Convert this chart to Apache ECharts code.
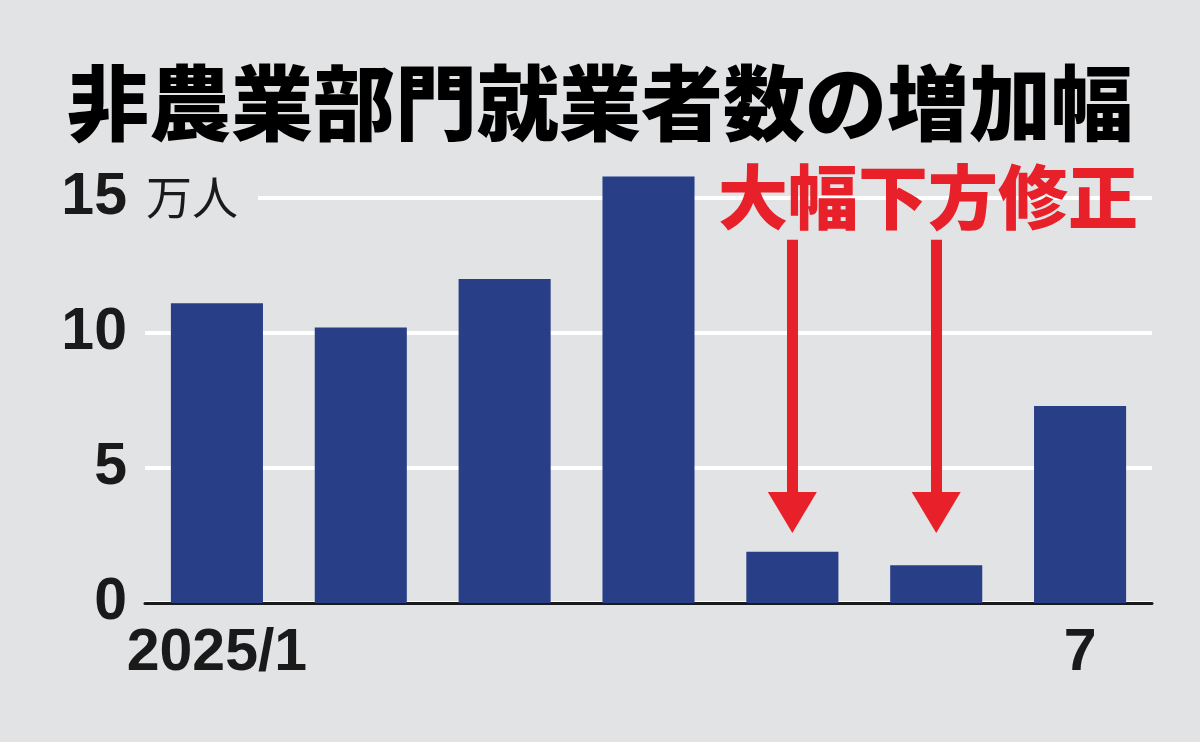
<!DOCTYPE html>
<html>
<head>
<meta charset="utf-8">
<script src="https://cdn.jsdelivr.net/npm/echarts@6/dist/echarts.min.js"></script>
<style>
html,body{margin:0;padding:0;background:#e2e3e5;}
#chart{width:1200px;height:742px;}
</style>
</head>
<body>
<div id="chart"></div>
<script>
var categories = ['2025/1', '2', '3', '4', '5', '6', '7'];
var values = [11.1, 10.2, 12.0, 15.8, 1.9, 1.4, 7.3];
var yTicks = [0, 5, 10, 15];
var titleText = '非農業部門就業者数の増加幅';
var unitText = '万人';
var noteText = '大幅下方修正';
var arrowIdx = [4, 5];
var arrowFrom = 13.45;
var arrowTo = 3.35;

var BG = '#e2e3e5';
var chart = echarts.init(document.getElementById('chart'));
var numFont = '"Liberation Sans Narrow", "Liberation Sans", Arial, sans-serif';
var cjk = '"Noto Sans CJK JP", sans-serif';

chart.setOption({
  backgroundColor: BG,
  animation: false,
  grid: {left: 145, right: 48, top: 198, bottom: 139},
  xAxis: {
    type: 'category',
    data: categories,
    axisLine: {show: true, lineStyle: {color: '#1a1a1a', width: 3}},
    axisTick: {show: false},
    axisLabel: {
      interval: function (i) { return i === 0 || i === categories.length - 1; },
      color: '#1a1a1a', fontFamily: numFont, fontWeight: 'bold', fontSize: 59, margin: 21
    }
  },
  yAxis: {
    type: 'value',
    min: yTicks[0], max: yTicks[yTicks.length - 1], interval: 5,
    axisLine: {show: false},
    axisTick: {show: false},
    splitLine: {lineStyle: {color: '#ffffff', width: 4}},
    axisLabel: {color: '#1a1a1a', fontFamily: numFont, fontWeight: 'bold', fontSize: 59, margin: 18}
  },
  series: [{
    type: 'bar',
    data: values,
    clip: false,
    barCategoryGap: '36%',
    itemStyle: {color: '#283e87'},
    silent: true,
    markLine: {
      silent: true,
      symbol: ['none', 'triangle'],
      symbolSize: [49, 41],
      label: {show: false},
      lineStyle: {color: '#e8202a', width: 11, type: 'solid'},
      emphasis: {disabled: true},
      data: arrowIdx.map(function (i) {
        return [{coord: [i, arrowFrom]}, {coord: [i, arrowTo]}];
      })
    }
  }],
  graphic: [
    {type: 'text', left: 'center', top: 62, z: 10,
     style: {text: titleText, font: '900 82px ' + cjk, fill: '#000000'}},
    {type: 'rect', z: 5, shape: {x: 140, y: 188, width: 118, height: 20}, style: {fill: BG}},
    {type: 'text', z: 10, x: 146, y: 197,
     style: {text: unitText, font: '400 46px ' + cjk, fill: '#1a1a1a', verticalAlign: 'middle'}},
    {type: 'text', z: 10, x: 928, y: 197,
     style: {text: noteText, font: '900 70px ' + cjk, fill: '#e8202a', align: 'center', verticalAlign: 'middle'}}
  ]
});
</script>
</body>
</html>
